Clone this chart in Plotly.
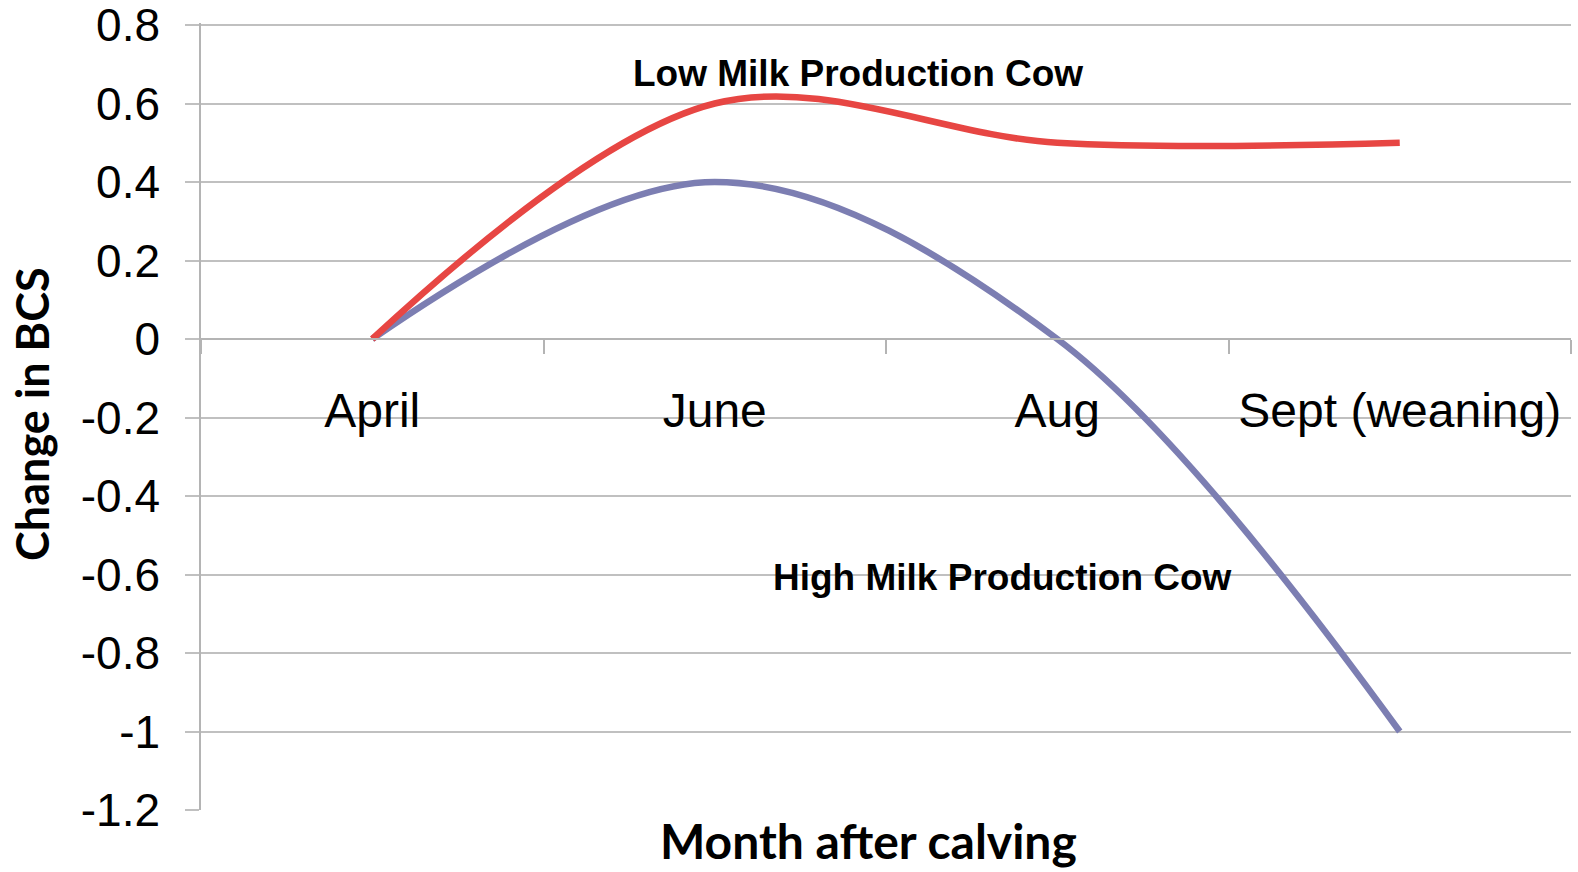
import plotly.graph_objects as go

months = ["April", "June", "Aug", "Sept (weaning)"]
low_milk = [0, 0.6, 0.5, 0.5]
high_milk = [0, 0.4, 0, -1]
y_ticks = [0.8, 0.6, 0.4, 0.2, 0, -0.2, -0.4, -0.6, -0.8, -1, -1.2]
y_tick_text = ["0.8", "0.6", "0.4", "0.2", "0", "-0.2", "-0.4", "-0.6", "-0.8", "-1", "-1.2"]

RED = "#E74643"
BLUE = "#7C7EB2"
GRID = "#C0C0C0"
AXIS = "#B4B4B4"

Y_MIN, Y_MAX = -1.2, 0.8051  # tiny headroom so the 0.8 gridline is drawn
ZERO_POS = (0 - Y_MIN) / (Y_MAX - Y_MIN)

fig = go.Figure()
fig.add_trace(go.Scatter(x=months, y=high_milk, mode="lines",
                         line=dict(color=BLUE, width=6.5, shape="spline", smoothing=1),
                         name="High Milk Production Cow"))
fig.add_trace(go.Scatter(x=months, y=low_milk, mode="lines",
                         line=dict(color=RED, width=6.5, shape="spline", smoothing=1),
                         name="Low Milk Production Cow"))

fig.update_layout(
    width=1578, height=872,
    margin=dict(l=201, r=7, t=23, b=62),
    paper_bgcolor="white", plot_bgcolor="white",
    showlegend=False,
    font=dict(family="Liberation Sans, Arial, sans-serif", color="black"),
    xaxis=dict(
        type="category", range=[-0.5, 3.5],
        anchor="free", position=ZERO_POS, automargin=False,
        showgrid=False, zeroline=False,
        showline=True, linecolor=AXIS, linewidth=1.5,
        ticks="outside", tickson="boundaries", ticklen=14, tickcolor=AXIS, tickwidth=1.5,
        tickfont=dict(size=48, family="Liberation Sans, Arial, sans-serif", color="black"),
        ticklabelstandoff=30, ticklabeloverflow="allow",
    ),
    yaxis=dict(
        range=[Y_MIN, Y_MAX], automargin=False,
        tickvals=y_ticks, ticktext=y_tick_text,
        showgrid=True, gridcolor=GRID, gridwidth=1.5,
        zeroline=False,
        showline=True, linecolor=AXIS, linewidth=1.5,
        ticks="outside", ticklen=14, tickcolor=GRID, tickwidth=1.5,
        tickfont=dict(size=46, family="Liberation Sans, Arial, sans-serif", color="black"),
        ticklabelstandoff=16, ticklabeloverflow="allow",
    ),
)

fig.add_annotation(text="<b>Low Milk Production Cow</b>", xref="paper", yref="paper",
                   x=0.4796, y=0.9364, xanchor="center", yanchor="middle", showarrow=False,
                   font=dict(size=37, family="Liberation Sans, Arial, sans-serif", color="black"))
fig.add_annotation(text="<b>High Milk Production Cow</b>", xref="paper", yref="paper",
                   x=0.5847, y=0.2960, xanchor="center", yanchor="middle", showarrow=False,
                   font=dict(size=37, family="Liberation Sans, Arial, sans-serif", color="black"))
fig.add_annotation(text="<b>Month after calving</b>", xref="paper", yref="paper",
                   x=0.4869, y=-0.0390, xanchor="center", yanchor="middle", showarrow=False,
                   font=dict(size=48, family="Lato, Carlito, Calibri, sans-serif", color="black"))
fig.add_annotation(text="<b>Change in BCS</b>", xref="paper", yref="paper",
                   x=-0.1234, y=0.5032, xanchor="center", yanchor="middle", showarrow=False,
                   textangle=-90,
                   font=dict(size=45, family="Lato, Carlito, Calibri, sans-serif", color="black"))

fig.write_html("out.html")
